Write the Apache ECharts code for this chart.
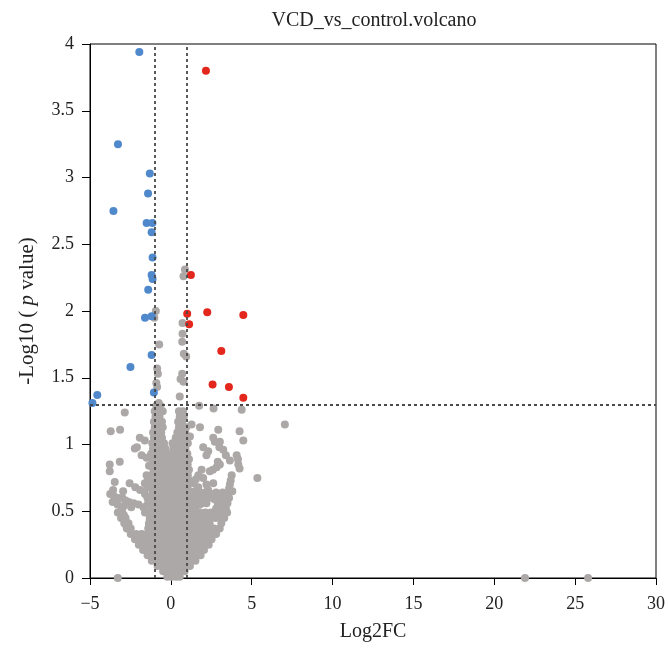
<!DOCTYPE html>
<html>
<head>
<meta charset="utf-8">
<script src="https://cdn.jsdelivr.net/npm/echarts@6/dist/echarts.min.js"></script>
<style>html,body{margin:0;padding:0;background:#fff}#c{width:668px;height:648px}</style>
</head>
<body>
<div id="c"></div>
<script>
const titleText = 'VCD_vs_control.volcano';
const xTicks = [-5, 0, 5, 10, 15, 20, 25, 30];
const yTicks = [0, 0.5, 1, 1.5, 2, 2.5, 3, 3.5, 4];
const fcCut = [-1, 1];
const pCut = 1.3;

const upPoints = [[2.17,3.80],[1.24,2.27],[1.01,1.98],[2.25,1.99],[4.48,1.97],[1.13,1.90],[3.12,1.70],[2.58,1.45],[3.59,1.43],[4.48,1.35]];

const downPoints = [[-1.95,3.94],[-3.27,3.25],[-1.3,3.03],[-1.41,2.88],[-3.55,2.75],[-1.5,2.66],[-1.14,2.66],[-1.19,2.59],[-1.13,2.40],[-1.19,2.27],[-1.13,2.24],[-1.4,2.16],[-1.6,1.95],[-1.19,1.96],[-1.19,1.67],[-2.5,1.58],[-1.05,1.39],[-4.55,1.37],[-4.85,1.31]];

const greyFar = [[-3.28,0],[21.9,0],[25.8,0],[7.05,1.15],[5.35,0.75]];

const greyNearCut = [[-0.93,2.0],[-1.02,1.95],[-0.72,1.75],[-0.85,1.57],[-0.8,1.53],[-0.9,1.46],[-0.85,1.43],[-0.75,1.31],
  [0.87,2.31],[0.78,2.26],[0.72,1.91],[0.72,1.83],[0.7,1.77],[0.8,1.68],[0.95,1.66],[0.7,1.53],[0.6,1.49],[0.78,1.47],[0.55,1.36],
  [1.75,1.29],[2.64,1.27],[4.38,1.26],[-2.85,1.24]];

const greyLeft = [[-3.72,1.10],[-3.14,1.11],[-1.92,1.05],[-1.61,1.03],[-2.23,0.97],[-1.81,0.92],[-1.5,0.90],[-3.78,0.85],[-3.16,0.87],[-3.78,0.80],[-1.5,0.77],[-3.47,0.72],[-2.55,0.71],[-1.61,0.71],[-3.57,0.66],[-2.95,0.65],[-2.1,0.98],[-1.35,0.84],[-2.2,0.68],[-1.9,0.66],[-1.6,0.63],[-1.45,0.6],[-3.75,0.63],[-3.5,0.61],[-3.25,0.6],[-3.0,0.6],[-2.8,0.58],[-3.6,0.57],[-3.3,0.55],[-2.9,0.54],[-3.05,0.51],[-2.6,0.57],[-2.3,0.56],[-2.0,0.55],[-1.7,0.53],[-2.45,0.53],[-1.3,0.48],[-1.3,0.44],[-1.35,0.40],[-2.9,0.47],[-2.85,0.43],[-2.75,0.39],[-1.45,0.55],[-1.45,0.68],[-1.42,0.74]];

const greyRight = [[1.8,1.13],[2.93,1.11],[4.25,1.10],[2.62,1.05],[3.03,1.02],[4.48,1.03],[3.24,0.96],[2.31,0.95],[4.07,0.92],[3.65,0.88],[2.83,0.83],[4.17,0.85],[2.41,0.80],[3.76,0.77],[2.0,0.75],[2.62,0.71],[3.65,0.70],[1.69,0.68],[1.49,0.65],[3.55,0.63],[1.18,1.06],[2.0,0.98],[1.28,1.15],[3.0,0.98],[3.4,0.92],[4.15,0.89],[4.25,0.82],[2.9,0.87],[2.6,0.81],[1.9,0.81],[1.7,0.77],[1.55,0.74],[1.4,0.71],[3.7,0.73],[3.6,0.67],[3.5,0.6],[2.3,0.66],[2.5,0.63],[2.7,0.59],[2.72,1.02],[2.2,0.92],[3.03,0.85],[2.2,0.70],[2.0,0.62],[3.15,0.57],[3.3,0.54],[1.6,0.6],[1.8,0.55],
  [1.2,0.52],[1.5,0.52],[2.8,0.52],[3.1,0.52],[3.4,0.52],[1.3,0.56],[1.6,0.56],[1.9,0.56],[2.2,0.56],[2.9,0.56],[3.2,0.56],[3.5,0.56],[1.3,0.6],[1.9,0.6],[2.3,0.6],[2.6,0.6],[2.9,0.6],[3.3,0.6],[3.6,0.6],[1.4,0.64],[1.8,0.64],[2.1,0.64],[2.8,0.64],[3.2,0.64],[3.8,0.65]];

const coreRows = [
  [0.01, [-0.22,0.05,0.32,0.55]],
  [0.05, [-0.48,-0.15,0.18,0.5,0.85]],
  [0.09, [-0.82,-0.48,-0.13,0.22,0.56,0.9,1.18]],
  [0.13, [-1.18,-0.84,-0.5,-0.15,0.2,0.55,0.88,1.22,1.52]],
  [0.17, [-1.44,-1.1,-0.76,-0.42,-0.08,0.26,0.6,0.94,1.28,1.6,1.84]],
  [0.21, [-1.72,-1.38,-1.04,-0.7,-0.36,-0.02,0.32,0.66,1.0,1.34,1.68,2.05]],
  [0.25, [-1.98,-1.64,-1.3,-0.96,-0.62,-0.28,0.06,0.4,0.74,1.08,1.42,1.76,2.08,2.34]],
  [0.29, [-2.22,-1.88,-1.54,-1.2,-0.86,-0.52,-0.18,0.16,0.5,0.84,1.18,1.52,1.86,2.2,2.52]],
  [0.33, [-2.48,-2.14,-1.8,-1.46,-1.12,-0.78,-0.44,-0.1,0.24,0.58,0.92,1.26,1.6,1.94,2.28,2.6,2.8]],
  [0.37, [-2.72,-2.48,-1.4,-1.06,-0.72,-0.38,-0.04,0.3,0.64,0.98,1.32,1.66,2.0,2.34,2.68,3.02]],
  [0.41, [-2.88,-2.62,-1.35,-1.0,-0.66,-0.32,0.02,0.36,0.7,1.04,1.38,1.72,2.06,2.4,3.12]],
  [0.45, [-3.08,-2.8,-1.3,-0.98,-0.64,-0.3,0.04,0.38,0.72,1.06,1.4,1.74,2.08,2.42,2.76,3.1,3.3]],
  [0.49, [-3.28,-3.0,-1.6,-1.25,-0.92,-0.58,-0.24,0.1,0.44,0.78,1.12,1.46,1.8,2.14,2.48,2.82,3.16,3.48]]
];

const leftPlumeRows = [
  [0.53, [-1.22,-0.97,-0.72,-0.47,-0.22]],
  [0.57, [-1.1,-0.85,-0.6,-0.35,-0.1]],
  [0.61, [-1.2,-0.96,-0.72,-0.46,-0.22]],
  [0.65, [-1.12,-0.86,-0.6,-0.36,-0.12]],
  [0.69, [-1.22,-0.98,-0.72,-0.48,-0.24]],
  [0.73, [-1.1,-0.84,-0.6,-0.34,-0.1]],
  [0.77, [-1.2,-0.96,-0.7,-0.46,-0.22]],
  [0.81, [-1.08,-0.84,-0.58,-0.34,-0.12]],
  [0.85, [-1.2,-0.95,-0.7,-0.45,-0.22]],
  [0.89, [-1.1,-0.85,-0.6,-0.36,-0.12]],
  [0.93, [-1.22,-0.96,-0.72,-0.46,-0.22]],
  [0.97, [-1.1,-0.84,-0.6,-0.34]],
  [1.01, [-1.15,-0.9,-0.65,-0.42]],
  [1.05, [-1.05,-0.8,-0.55]],
  [1.09, [-1.1,-0.85,-0.6]],
  [1.13, [-1.0,-0.75,-0.5]],
  [1.17, [-1.05,-0.8,-0.55]],
  [1.21, [-0.95,-0.7]],
  [1.25, [-1.0,-0.75,-0.5]],
  [1.29, [-0.9,-0.65]]
];

const centerPlumeRows = [
  [0.53, [0.05,0.3,0.55,0.8,1.05]],
  [0.57, [0.15,0.4,0.65,0.9,1.15]],
  [0.61, [0.04,0.3,0.55,0.8,1.05]],
  [0.65, [0.16,0.42,0.66,0.9,1.15]],
  [0.69, [0.05,0.3,0.55,0.8,1.04]],
  [0.73, [0.15,0.4,0.66,0.92,1.14]],
  [0.77, [0.05,0.3,0.56,0.8,1.05]],
  [0.81, [0.16,0.42,0.66,0.9,1.12]],
  [0.85, [0.05,0.3,0.55,0.8,1.04]],
  [0.89, [0.15,0.4,0.65,0.9,1.12]],
  [0.93, [0.06,0.3,0.55,0.8,1.02]],
  [0.97, [0.15,0.42,0.66,0.9]],
  [1.01, [0.1,0.35,0.6,0.85,1.05]],
  [1.05, [0.3,0.55,0.8]],
  [1.09, [0.4,0.65,0.9]],
  [1.13, [0.5,0.75,0.95]],
  [1.17, [0.45,0.7]],
  [1.21, [0.55,0.8]],
  [1.25, [0.5,0.75]]
];

function rowsToPoints(rows) {
  const out = [];
  rows.forEach(function (r) { r[1].forEach(function (x) { out.push([x, r[0]]); }); });
  return out;
}

const greyAll = [].concat(rowsToPoints(coreRows), rowsToPoints(leftPlumeRows), rowsToPoints(centerPlumeRows), greyLeft, greyRight, greyNearCut, greyFar);

const FONT = '"Liberation Serif", "DejaVu Serif", serif';
const GREY = '#aca8a7', BLUE = '#5089cb', RED = '#e3271c';

const chart = echarts.init(document.getElementById('c'), null, {renderer: 'canvas'});
chart.setOption({
  animation: false,
  backgroundColor: '#fff',
  graphic: [{
    type: 'text', x: 374, y: 21, silent: true,
    style: {text: titleText, font: '20px ' + FONT, fill: '#222', textAlign: 'center', textVerticalAlign: 'middle'}
  }],
  grid: {left: 90, right: 12, top: 44, bottom: 70, show: true, borderColor: '#000', borderWidth: 1, containLabel: false},
  xAxis: {
    type: 'value', min: xTicks[0], max: xTicks[xTicks.length - 1], interval: 5,
    name: 'Log2FC', nameLocation: 'middle', nameGap: 44,
    nameTextStyle: {fontFamily: FONT, fontSize: 20, color: '#222'},
    axisLine: {onZero: false, lineStyle: {color: '#000', width: 1}},
    axisTick: {show: true, inside: false, length: 7, lineStyle: {color: '#000'}},
    axisLabel: {fontFamily: FONT, fontSize: 18, color: '#222', margin: 17,
      formatter: function (v) { return v < 0 ? '\u2212' + Math.abs(v) : String(v); }},
    splitLine: {show: false}
  },
  yAxis: {
    type: 'value', min: yTicks[0], max: yTicks[yTicks.length - 1], interval: 0.5,
    name: '-Log10 ( {i|p} value)', nameLocation: 'middle', nameGap: 52,
    nameTextStyle: {fontFamily: FONT, fontSize: 21, color: '#222',
      rich: {i: {fontFamily: FONT, fontSize: 21, fontStyle: 'italic', color: '#222'}}},
    axisLine: {onZero: false, lineStyle: {color: '#000', width: 1}},
    axisTick: {show: true, inside: false, length: 8, lineStyle: {color: '#000'}},
    axisLabel: {fontFamily: FONT, fontSize: 18, color: '#222', margin: 16},
    splitLine: {show: false}
  },
  series: [
    {type: 'scatter', name: 'ns', data: greyAll, symbolSize: 8, z: 2, progressive: 0, silent: true,
      itemStyle: {color: GREY, opacity: 1}},
    {type: 'scatter', name: 'cut', data: [], z: 3, silent: true,
      markLine: {silent: true, symbol: ['none', 'none'], label: {show: false}, animation: false,
        lineStyle: {type: [3, 3], color: '#4a4a4a', width: 1.8},
        emphasis: {disabled: true},
        data: [{xAxis: fcCut[0]}, {xAxis: fcCut[1]}, {yAxis: pCut}]}},
    {type: 'scatter', name: 'down', data: downPoints, symbolSize: 8, z: 4, silent: true,
      itemStyle: {color: BLUE, opacity: 1}},
    {type: 'scatter', name: 'up', data: upPoints, symbolSize: 8, z: 4, silent: true,
      itemStyle: {color: RED, opacity: 1}}
  ]
});
</script>
</body>
</html>
